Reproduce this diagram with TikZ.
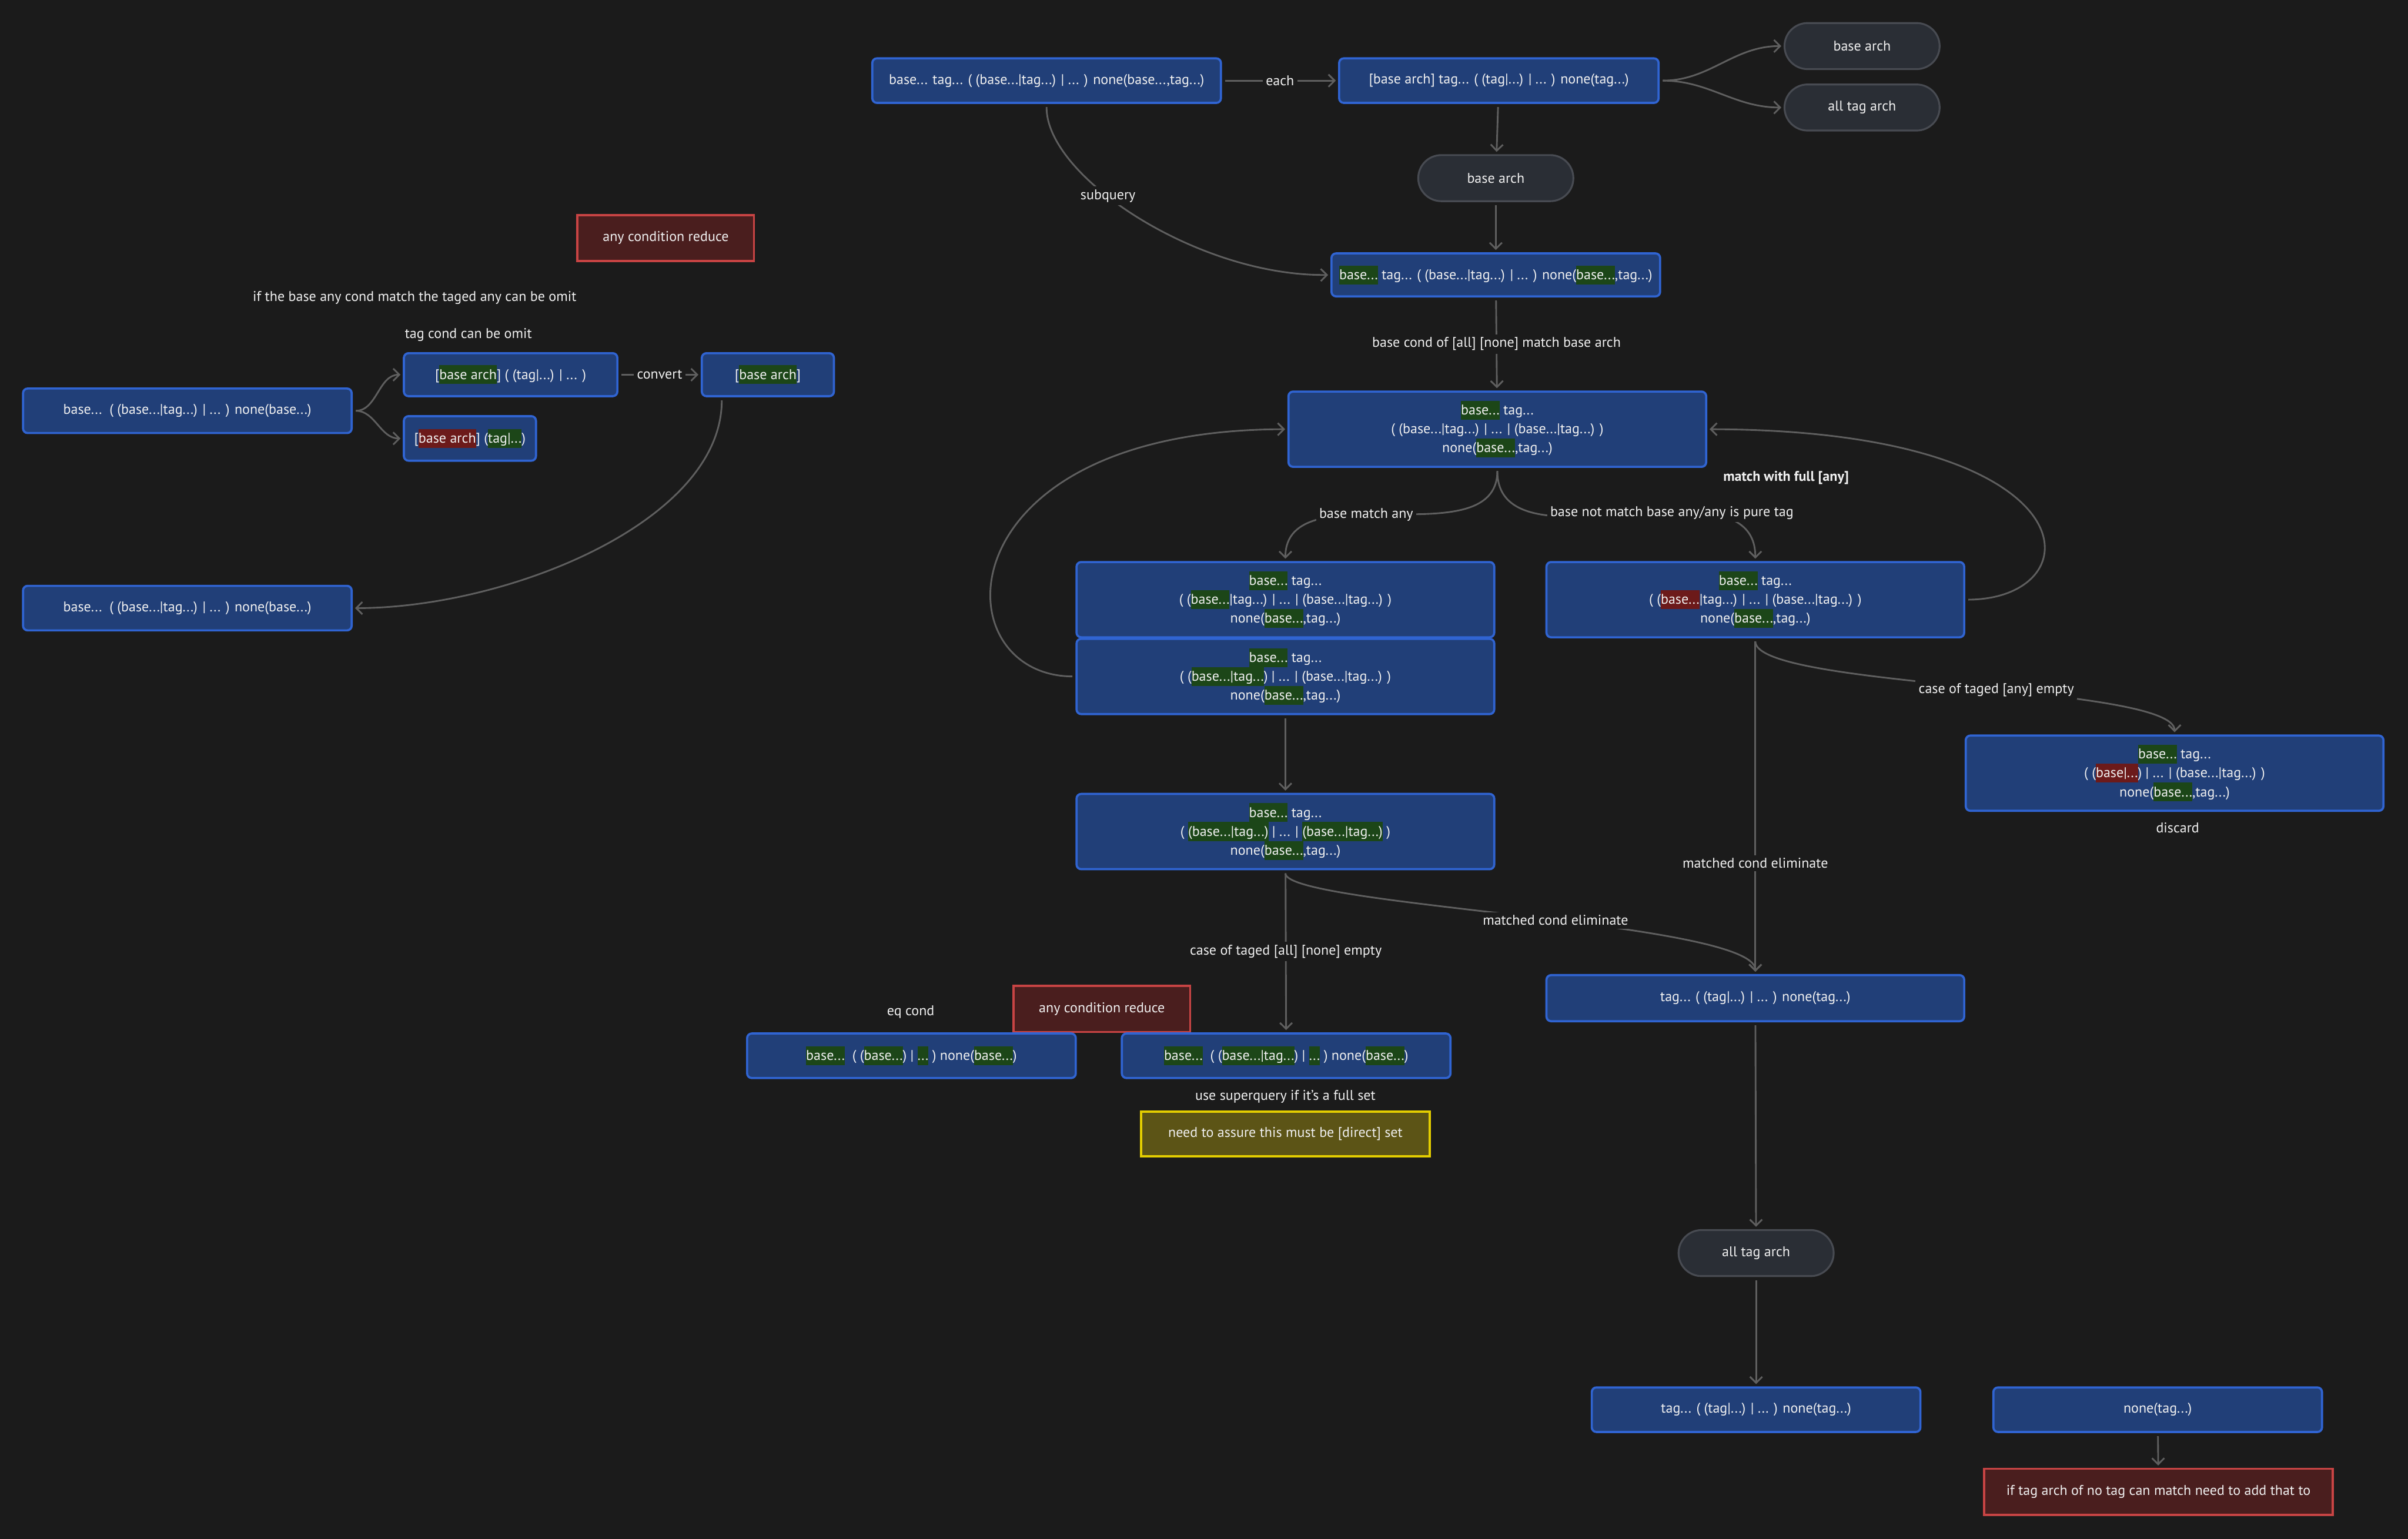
\documentclass[tikz,border=0pt]{standalone}
\usepackage{fontspec}
\setmainfont{PT Sans}
\usetikzlibrary{arrows.meta}
\definecolor{bgc}{RGB}{27,27,27}
\definecolor{boxfill}{RGB}{33,63,120}
\definecolor{boxline}{RGB}{48,100,210}
\definecolor{pillfill}{RGB}{42,46,53}
\definecolor{pillline}{RGB}{72,75,82}
\definecolor{notefill}{RGB}{74,30,30}
\definecolor{noteline}{RGB}{200,68,68}
\definecolor{warnfill}{RGB}{92,84,22}
\definecolor{warnline}{RGB}{228,206,0}
\definecolor{hlgreen}{RGB}{28,70,24}
\definecolor{hlred}{RGB}{108,26,26}
\definecolor{edgec}{RGB}{95,95,95}
\definecolor{txt}{RGB}{240,240,240}
\newcommand{\hstrut}{\rule[-3.2pt]{0pt}{12.3pt}}
\newcommand{\hlg}[1]{{\setlength{\fboxsep}{0pt}\colorbox{hlgreen}{\hstrut#1}}}
\newcommand{\hlr}[1]{{\setlength{\fboxsep}{0pt}\colorbox{hlred}{\hstrut#1}}}

\begin{document}
\begin{tikzpicture}[
  x=1pt,y=-1pt,
  font=\fontsize{9.2}{12.3}\selectfont,
  text=txt,
  state/.style={draw=boxline,fill=boxfill,line width=1.4pt,rounded corners=3pt,align=center,inner sep=0pt},
  big/.style={state,minimum width=272,minimum height=49},
  flat/.style={state,minimum width=214,minimum height=29},
  pill/.style={draw=pillline,fill=pillfill,line width=1.2pt,rounded corners=15pt,minimum width=101,minimum height=30},
  note/.style={draw=noteline,fill=notefill,line width=1.4pt,minimum height=30},
  warn/.style={draw=warnline,fill=warnfill,line width=1.4pt,minimum width=188,minimum height=29},
  lbl/.style={fill=bgc,inner sep=2pt},
  conn/.style={draw=edgec,line width=1.1pt,shorten <=2pt,shorten >=1.5pt,-{Straight Barb[length=4pt,width=8pt]}}
]
  \fill[bgc] (0,0) rectangle (1568,1002);
  \useasboundingbox (0,0) rectangle (1568,1002);
  % top row
  \node[state,minimum width=227,minimum height=29] (n1) at (681.5,52.5) {base... tag... ( (base...|tag...) | ... ) none(base...,tag...)};
  \node[state,minimum width=208,minimum height=29] (n2) at (976,52.5) {[base arch] tag... ( (tag|...) | ... ) none(tag...)};
  \node[pill] (p1) at (1212.5,30) {base arch};
  \node[pill] (p2) at (1212.5,70) {all tag arch};
  \node[pill] (p3) at (974,116) {base arch};
  \node[state,minimum width=214,minimum height=28] (n3) at (974,179) {\hlg{base...} tag... ( (base...|tag...) | ... ) none(\hlg{base...},tag...)};
  % main column
  \node[big] (n4) at (975,279.5) {\hlg{base...} tag...\\( (base...|tag...) | ...  | (base...|tag...) )\\none(\hlg{base...},tag...)};
  \node[font=\fontsize{9.2}{12.3}\selectfont\bfseries] (lfull) at (1163,311) {match with full [any]};
  \node[big] (n5l) at (837,390.5) {\hlg{base...} tag...\\( (\hlg{base...}|tag...) | ...  | (base...|tag...) )\\none(\hlg{base...},tag...)};
  \node[big] (n5l2) at (837,440.5) {\hlg{base...} tag...\\( (\hlg{base...|tag...}) | ...  | (base...|tag...) )\\none(\hlg{base...},tag...)};
  \node[big] (n5r) at (1143,390.5) {\hlg{base...} tag...\\( (\hlr{base...}|tag...) | ...  | (base...|tag...) )\\none(\hlg{base...},tag...)};
  \node[big] (n6) at (1416,503.5) {\hlg{base...} tag...\\( (\hlr{base|...}) | ...  | (base...|tag...) )\\none(\hlg{base...},tag...)};
  \node (ldis) at (1418,539) {discard};
  \node[big] (n8) at (837,541.5) {\hlg{base...} tag...\\( \hlg{(base...|tag...)} | ...  | \hlg{(base...|tag...)} )\\none(\hlg{base...},tag...)};
  \node[state,minimum width=272,minimum height=30] (n7) at (1143,650) {tag... ( (tag|...) | ...  ) none(tag...)};
  \node[pill] (p4) at (1143.5,816) {all tag arch};
  \node[flat] (n10) at (1143.5,918) {tag... ( (tag|...) | ...  ) none(tag...)};
  \node[flat] (n11) at (1405,918) {none(tag...)};
  \node[note,minimum width=227] (nt3) at (1405.5,971.5) {if tag arch of no tag can match need to add that to};
  % bottom middle
  \node (leq) at (593,659) {eq cond};
  \node[note,minimum width=115] (nt2) at (717.5,657) {any condition reduce};
  \node[flat] (n9a) at (593.5,687.5) {\hlg{base...}\ \ ( (\hlg{base...}) | \hlg{...} ) none(\hlg{base...})};
  \node[flat] (n9b) at (837.5,687.5) {\hlg{base...}\ \ ( (\hlg{base...|tag...}) | \hlg{...} ) none(\hlg{base...})};
  \node (lsup) at (837,714) {use superquery if it’s a full set};
  \node[warn] (wn) at (837,738.5) {need to assure this must be [direct] set};
  % left part
  \node[note,minimum width=115] (nt1) at (433.5,155) {any condition reduce};
  \node (lomit) at (270,194) {if the base any cond match the taged any can be omit};
  \node (ltag) at (305,218) {tag cond can be omit};
  \node[flat] (l1) at (122,267.5) {base...\ \ ( (base...|tag...) | ... ) none(base...)};
  \node[state,minimum width=139,minimum height=28] (l2) at (332.5,244) {[\hlg{base arch}] ( (tag|...) | ... )};
  \node[state,minimum width=86,minimum height=29] (l3) at (306,285.5) {[\hlr{base arch}] (\hlg{tag|...})};
  \node[state,minimum width=86,minimum height=28] (l4) at (500,244) {[\hlg{base arch}]};
  \node[flat] (l5) at (122,396) {base...\ \ ( (base...|tag...) | ... ) none(base...)};
  % connectors
  \draw[conn] (n1) -- node[lbl]{each} (n2);
  \draw[conn] (n2.east) to[out=0,in=180] (p1.west);
  \draw[conn] (n2.east) to[out=0,in=180] (p2.west);
  \draw[conn] (n2) -- (p3);
  \draw[conn] (p3) -- (n3);
  \draw[conn] (n1.south) .. controls (681,115) and (780,180) .. node[lbl,pos=0.4]{subquery} (n3.west);
  \draw[conn] (n3) -- node[lbl]{base cond of [all] [none] match base arch} (n4);
  \draw[conn] (n4.south) to[out=-90,in=90] node[lbl,pos=0.58]{base match any} (n5l.north);
  \draw[conn] (n4.south) to[out=-90,in=90] node[lbl,pos=0.62]{base not match base any/any is pure tag} (n5r.north);
  \draw[conn] (n5r.east) .. controls (1365,390) and (1365,280) .. (n4.east);
  \draw[conn] (n5l2.west) .. controls (612,440) and (612,280) .. (n4.west);
  \draw[conn] (n5r.south) -- node[lbl,pos=0.67]{matched cond eliminate} (n7.north);
  \draw[conn] (n5r.south) .. controls (1143,448) and (1416,446) .. node[lbl,pos=0.55]{case of taged [any] empty} (n6.north);
  \draw[conn] (n5l2) -- (n8);
  \draw[conn] (n8) -- node[lbl]{case of taged [all] [none] empty} (n9b);
  \draw[conn] (n8.south) .. controls (837,590) and (1143,600) .. node[lbl,pos=0.55]{matched cond eliminate} (n7.north);
  \draw[conn] (n7) -- (p4);
  \draw[conn] (p4) -- (n10);
  \draw[conn] (n11) -- (nt3);
  \draw[conn] (l1.east) to[out=0,in=180] (l2.west);
  \draw[conn] (l1.east) to[out=0,in=180] (l3.west);
  \draw[conn] (l2) -- node[lbl]{convert} (l4);
  \draw[conn] ([xshift=-30pt]l4.south) .. controls (470,340) and (330,396) .. (l5.east);
\end{tikzpicture}
\end{document}
